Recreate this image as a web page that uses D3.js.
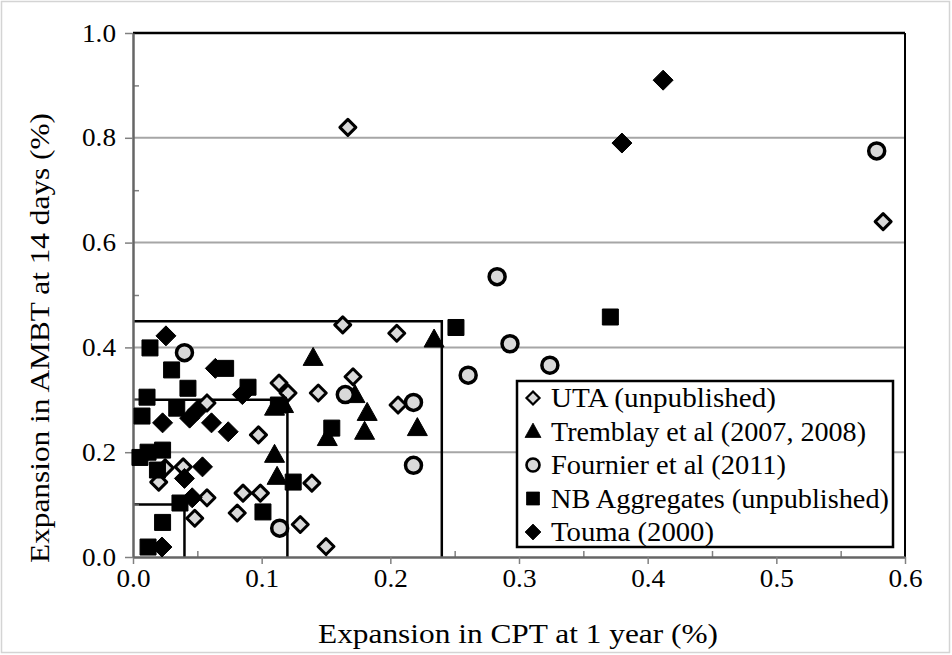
<!DOCTYPE html>
<html><head><meta charset="utf-8">
<script src="https://cdn.jsdelivr.net/npm/d3@7"></script>
<style>body{margin:0;background:#fff}svg{display:block}svg text{font-family:"Liberation Serif","Times New Roman","DejaVu Serif",serif !important;fill:#000}</style>
</head><body>
<svg id="c" width="952" height="655"></svg>
<script>
// ---- data ----
const seriesNames = ["UTA (unpublished)","Tremblay et al (2007, 2008)","Fournier et al (2011)","NB Aggregates (unpublished)","Touma (2000)"];
const utaX = [0.167,0.583,0.163,0.205,0.171,0.1135,0.1205,0.144,0.206,0.0575,0.0975,0.039,0.020,0.025,0.139,0.0855,0.099,0.0575,0.081,0.048,0.13,0.15];
const utaY = [0.82,0.64,0.443,0.427,0.344,0.332,0.313,0.313,0.29,0.294,0.233,0.172,0.143,0.17,0.141,0.122,0.122,0.113,0.084,0.074,0.062,0.02];
const tremX = [0.234,0.14,0.1725,0.182,0.18,0.151,0.221,0.11,0.112,0.117,0.11];
const tremY = [0.415,0.38,0.309,0.275,0.239,0.227,0.246,0.195,0.153,0.29,0.285];
const fourX = [0.578,0.283,0.293,0.2605,0.324,0.165,0.218,0.218,0.114,0.04];
const fourY = [0.775,0.535,0.407,0.347,0.366,0.31,0.295,0.175,0.055,0.39];
const nbX = [0.251,0.371,0.1545,0.1245,0.101,0.113,0.0132,0.030,0.072,0.0427,0.0109,0.0894,0.007,0.034,0.0054,0.0117,0.023,0.019,0.0365,0.023,0.0117];
const nbY = [0.438,0.458,0.246,0.143,0.086,0.29,0.399,0.357,0.36,0.322,0.305,0.324,0.269,0.284,0.19,0.2,0.204,0.166,0.103,0.066,0.019];
const toumaX = [0.412,0.38,0.0256,0.064,0.085,0.023,0.044,0.050,0.061,0.074,0.054,0.040,0.046,0.0225];
const toumaY = [0.91,0.79,0.422,0.36,0.31,0.256,0.265,0.28,0.256,0.239,0.172,0.15,0.113,0.019];
const boxX = [0.04,0.12,0.24];
const boxY = [0.1,0.3,0.45];
const xTicks = [0,0.1,0.2,0.3,0.4,0.5,0.6];
const yTicks = [0,0.2,0.4,0.6,0.8,1.0];
const xTitle = "Expansion in CPT at 1 year (%)";
const yTitle = "Expansion in AMBT at 14 days (%)";

// ---- drawing ----
const svg = d3.select("#c");
const L=133,R=905,T=33,B=557;
const x = d3.scaleLinear().domain([0,0.6]).range([L,R]);
const y = d3.scaleLinear().domain([0,1]).range([B,T]);
const fmt = d3.format(".1f");
const SERIF = '"Liberation Serif","Times New Roman","DejaVu Serif",serif';
function fit(sel, w){ sel.attr("textLength",w).attr("lengthAdjust","spacingAndGlyphs"); }

svg.append("rect").attr("x",1.5).attr("y",1.5).attr("width",948).attr("height",651)
  .attr("fill","#fff").attr("stroke","#d4d4d4").attr("stroke-width",1.5);

// gridlines
svg.append("g").selectAll("line").data([0.2,0.4,0.6,0.8]).join("line")
  .attr("x1",L).attr("x2",R).attr("y1",d=>y(d)).attr("y2",d=>y(d))
  .attr("stroke","#a6a6a6").attr("stroke-width",2);

// frame top/right
svg.append("line").attr("x1",L).attr("x2",R).attr("y1",T).attr("y2",T).attr("stroke","#000").attr("stroke-width",2.5);
svg.append("line").attr("x1",R).attr("x2",R).attr("y1",T).attr("y2",B).attr("stroke","#000").attr("stroke-width",2);

// boxes
svg.append("g").selectAll("path").data(boxX.map((d,i)=>[d,boxY[i]])).join("path")
  .attr("d",d=>`M${x(0)},${y(d[1])}H${x(d[0])}V${y(0)}`)
  .attr("fill","none").attr("stroke","#000").attr("stroke-width",2.5);

// minor ticks
const minorX = d3.range(1,12).map(i=>i*0.05).filter(v=>Math.abs(v*10-Math.round(v*10))>1e-6);
svg.append("g").attr("transform",`translate(0,${B})`)
  .call(d3.axisBottom(x).tickValues(minorX).tickSize(-6).tickFormat(""))
  .call(g=>{g.select(".domain").remove();g.selectAll("line").attr("stroke","#808080").attr("stroke-width",1.5);});
svg.append("g").attr("transform",`translate(${L},0)`)
  .call(d3.axisLeft(y).tickValues([0.1,0.3,0.5,0.7,0.9]).tickSize(-6).tickFormat(""))
  .call(g=>{g.select(".domain").remove();g.selectAll("line").attr("stroke","#808080").attr("stroke-width",1.5);});

// axes
const xa = svg.append("g").attr("transform",`translate(0,${B})`)
  .call(d3.axisBottom(x).tickValues(xTicks).tickFormat(fmt).tickSizeInner(7).tickSizeOuter(0).tickPadding(5));
const ya = svg.append("g").attr("transform",`translate(${L},0)`)
  .call(d3.axisLeft(y).tickValues(yTicks).tickFormat(fmt).tickSizeInner(8).tickSizeOuter(0).tickPadding(9));
[xa,ya].forEach(g=>{
  g.attr("font-family",SERIF);
  g.select(".domain").attr("stroke","#666").attr("stroke-width",2.5);
  g.selectAll(".tick line").attr("stroke","#808080").attr("stroke-width",1.5);
  g.selectAll(".tick text").attr("font-size",25).attr("fill","#000").call(s=>fit(s,34));
});

// markers
const sym = {
  diamond: s=>`M0,${-s}L${s},0L0,${s}L${-s},0Z`,
  tri: s=>`M0,${-s*1.05}L${s},${s*0.75}L${-s},${s*0.75}Z`,
  square: s=>`M${-s},${-s}H${s}V${s}H${-s}Z`,
  circle: s=>`M${s},0A${s},${s} 0 1,1 ${-s},0A${s},${s} 0 1,1 ${s},0Z`
};
const styles = [
  {shape:"diamond", size:8, fill:"#d9d9d9", stroke:"#000", sw:3, lsize:6.5},
  {shape:"tri", size:10, fill:"#000", stroke:"#000", sw:1, lsize:8},
  {shape:"circle", size:8, fill:"#d9d9d9", stroke:"#000", sw:3.5, lsize:6.5},
  {shape:"square", size:8, fill:"#000", stroke:"#000", sw:1, lsize:6.5},
  {shape:"diamond", size:10, fill:"#000", stroke:"#000", sw:1, lsize:8}
];
const allX=[utaX,tremX,fourX,nbX,toumaX], allY=[utaY,tremY,fourY,nbY,toumaY];
allX.forEach((xs,si)=>{
  const st=styles[si];
  svg.append("g").selectAll("path").data(xs.map((d,i)=>[d,allY[si][i]])).join("path")
    .attr("transform",d=>`translate(${x(d[0])},${y(d[1])})`)
    .attr("d",sym[st.shape](st.size))
    .attr("fill",st.fill).attr("stroke",st.stroke).attr("stroke-width",st.sw).attr("stroke-linejoin","round");
});

// legend
const legendW = [225,315,235,338,163];
const lg = svg.append("g").attr("font-family",SERIF);
lg.append("rect").attr("x",517).attr("y",381).attr("width",376).attr("height",166)
  .attr("fill","#fff").attr("stroke","#000").attr("stroke-width",2.5);
seriesNames.forEach((n,i)=>{
  const st=styles[i], cy=398+i*33.5;
  lg.append("path").attr("transform",`translate(533,${cy})`).attr("d",sym[st.shape](st.lsize))
    .attr("fill",st.fill).attr("stroke",st.stroke).attr("stroke-width",st.sw*0.75);
  const t = lg.append("text").attr("x",551).attr("y",cy).attr("dy","0.35em").attr("font-size",27).text(n);
  fit(t, legendW[i]);
});

// titles
const xt = svg.append("text").attr("x",518).attr("y",643).attr("text-anchor","middle").attr("font-size",27).attr("font-family",SERIF).text(xTitle);
fit(xt, 400);
const yt = svg.append("text").attr("transform",`translate(49,338) rotate(-90)`).attr("text-anchor","middle").attr("font-size",27).attr("font-family",SERIF).text(yTitle);
fit(yt, 450);
</script>
</body></html>
